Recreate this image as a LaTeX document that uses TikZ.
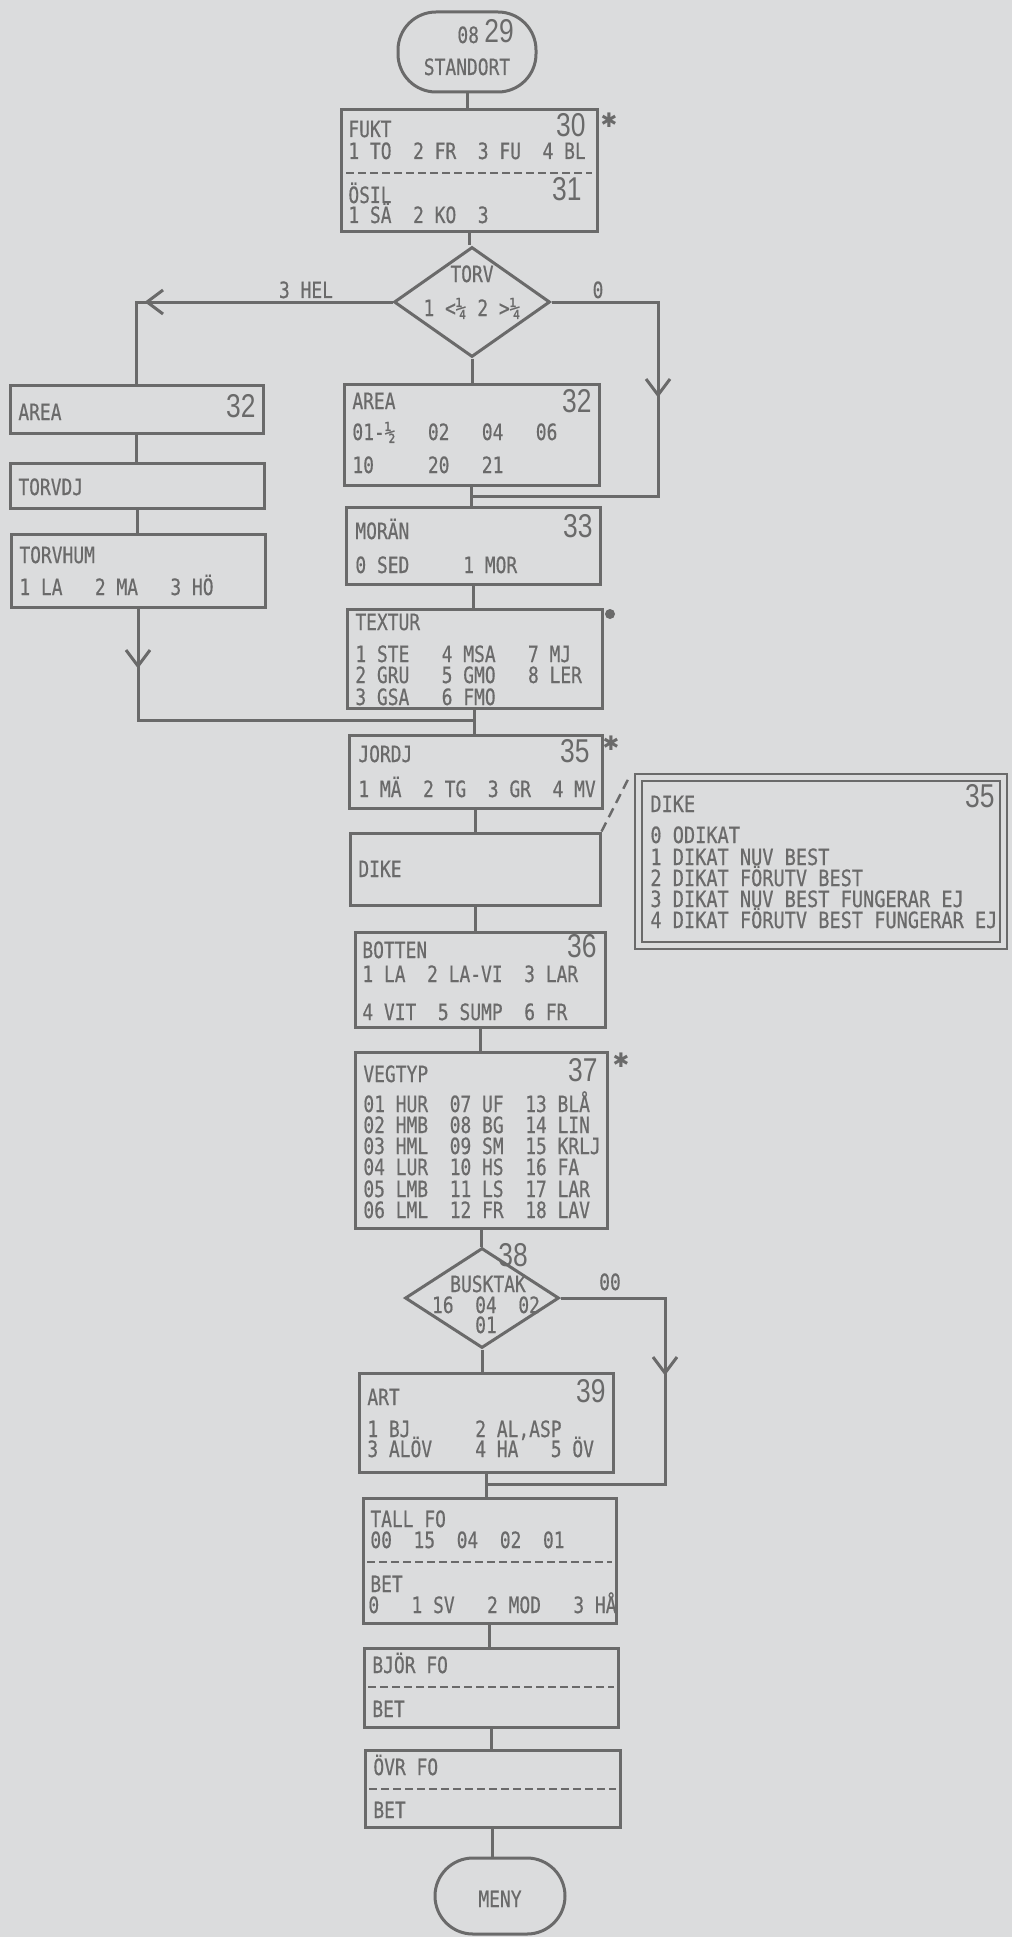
\documentclass[tikz,border=0pt]{standalone}
\usepackage{fontspec}
\newfontfamily\monof[FakeStretch=0.80,FakeBold=0.5]{DejaVu Sans Mono}
\newfontfamily\monofw[FakeStretch=0.83,FakeBold=0.5]{DejaVu Sans Mono}
\newfontfamily\numff[FakeStretch=0.80]{Liberation Sans}
\newfontfamily\symf{DejaVu Sans}
\usetikzlibrary{shapes.geometric,fit,calc,decorations.markings,arrows.meta}
\definecolor{bgc}{HTML}{DBDCDD}
\definecolor{inkc}{HTML}{6A6A6A}
\newcommand\mtxt{\monof\fontsize{11.2}{13}\selectfont}
\newcommand\mtxtw{\monofw\fontsize{11.2}{13}\selectfont}
\newcommand\bnumf{\numff\fontsize{16.5}{20}\selectfont}
\newcommand\astf{\symf\fontsize{10}{10}\selectfont}
\begin{document}
\begin{tikzpicture}[x=0.5pt,y=-0.5pt,
  box/.style={draw=inkc, line width=1.5pt, inner sep=0pt, rectangle},
  term/.style={box, rounded corners=19pt},
  dia/.style={draw=inkc, line width=1.5pt, diamond, inner sep=0pt},
  conn/.style={draw=inkc, line width=1.5pt},
  sepln/.style={draw=inkc, line width=1.1pt, dash pattern=on 4pt off 2pt},
  dashln/.style={draw=inkc, line width=1.2pt, dash pattern=on 5pt off 3pt},
  txt/.style={text=inkc, font=\mtxt, inner sep=0pt, anchor=base west},
  wtxt/.style={txt, font=\mtxtw},
  ctxt/.style={txt, anchor=base},
  bnum/.style={text=inkc, font=\bnumf, inner sep=0pt, anchor=base east},
  bnumc/.style={bnum, anchor=base},
  ast/.style={text=inkc, font=\astf, inner sep=0pt, anchor=center},
  marr/.style={decoration={markings, mark=at position #1 with {\arrow{Straight Barb[length=8pt,width=12pt]}}}, postaction={decorate}}
]
\fill[bgc] (0,0) rectangle (1012,1937);
\useasboundingbox (0,0) rectangle (1012,1937);

% ---------- start terminal
\node[term, fit={(398,12) (536,92)}] (start) {};
\node[txt] (t08) at (457,43) {08};
\node[bnum, anchor=base west] (t29) at (484,43) {29};
\node[ctxt] (tstand) at (467,75) {STANDORT};

% ---------- FUKT / OSIL
\node[box, fit={(341,110) (597,232)}] (fukt) {};
\node[txt] (tfukt) at (348,137) {FUKT};
\node[txt] (tfukt1) at (348,159) {1~TO~~2~FR~~3~FU~~4~BL};
\node[bnum] (n30) at (586,137) {30};
\draw[sepln] (346,173) -- (592,173);
\node[txt] (tosil) at (348,203) {ÖSIL};
\node[bnum] (n31) at (582,201) {31};
\node[txt] (tosil1) at (348,223) {1~SÄ~~2~KO~~3};
\node[ast] (a1) at (609,120) {✱};

% ---------- TORV diamond
\node[dia, minimum width=78pt, minimum height=55pt] (torv) at (472,302) {};
\node[ctxt] (ttorv) at (472,282) {TORV};
\node[ctxt] (ttorv1) at (472,316) {1~<¼~2~>¼};
\node[ctxt] (thel) at (306,298) {3 HEL};
\node[ctxt] (tzero) at (598,298) {0};

% ---------- left column
\node[box, fit={(10,385) (263,433)}] (larea) {};
\node[txt] (tlarea) at (18,420) {AREA};
\node[bnum] (n32a) at (256,417) {32};
\node[box, fit={(10,463) (264,508)}] (torvdj) {};
\node[txt] (ttorvdj) at (18,495) {TORVDJ};
\node[box, fit={(11,534) (265,607)}] (torvhum) {};
\node[txt] (ttorvhum) at (19,563) {TORVHUM};
\node[txt] (ttorvhum1) at (19,595) {1~LA~~~2~MA~~~3~HÖ};

% ---------- right AREA
\node[box, fit={(344,384) (599,485)}] (rarea) {};
\node[txt] (trarea) at (352,409) {AREA};
\node[bnum] (n32b) at (592,412) {32};
\node[txt] (trarea1) at (352,440) {01-½~~~02~~~04~~~06};
\node[txt] (trarea2) at (352,473) {10~~~~~20~~~21};

% ---------- MORAN
\node[box, fit={(346,507) (600,584)}] (moran) {};
\node[txt] (tmoran) at (355,539) {MORÄN};
\node[bnum] (n33) at (593,537) {33};
\node[txt] (tmoran1) at (355,573) {0~SED~~~~~1~MOR};

% ---------- TEXTUR
\node[box, fit={(347,609) (602,708)}] (textur) {};
\node[txt] (ttextur) at (355,630) {TEXTUR};
\node[txt] (ttextur1) at (355,662) {1~STE~~~4~MSA~~~7~MJ};
\node[txt] (ttextur2) at (355,683) {2~GRU~~~5~GMO~~~8~LER};
\node[txt] (ttextur3) at (355,705) {3~GSA~~~6~FMO};
\node[circle, fill=inkc, minimum size=5pt, inner sep=0pt] (blob) at (610,614) {};

% ---------- JORDJ
\node[box, fit={(349,735) (602,808)}] (jordj) {};
\node[txt] (tjordj) at (358,762) {JORDJ};
\node[bnum] (n35) at (590,762) {35};
\node[txt] (tjordj1) at (358,797) {1~MÄ~~2~TG~~3~GR~~4~MV};
\node[ast] (a2) at (611,743) {✱};

% ---------- DIKE
\node[box, fit={(350,833) (600,905)}] (dike) {};
\node[txt] (tdike) at (358,877) {DIKE};

% ---------- DIKE detail
\node[draw=inkc, double=bgc, double distance=2.5pt, line width=1pt, inner sep=0pt, fit={(638.5,777.5) (1003.5,945.5)}] (det) {};
\node[wtxt] (tdet) at (650,812) {DIKE};
\node[bnum] (n35b) at (995,807) {35};
\node[wtxt] (tdet0) at (650,843) {0 ODIKAT};
\node[wtxt] (tdet1) at (650,865) {1 DIKAT NUV BEST};
\node[wtxt] (tdet2) at (650,886) {2 DIKAT FÖRUTV BEST};
\node[wtxt] (tdet3) at (650,907) {3 DIKAT NUV BEST FUNGERAR EJ};
\node[wtxt] (tdet4) at (650,928) {4 DIKAT FÖRUTV BEST FUNGERAR EJ};

% ---------- BOTTEN
\node[box, fit={(355,932) (605,1027)}] (botten) {};
\node[txt] (tbotten) at (362,958) {BOTTEN};
\node[bnum] (n36) at (597,957) {36};
\node[txt] (tbotten1) at (362,982) {1~LA~~2~LA-VI~~3~LAR};
\node[txt] (tbotten2) at (362,1020) {4~VIT~~5~SUMP~~6~FR};

% ---------- VEGTYP
\node[box, fit={(355,1052) (607,1228)}] (vegtyp) {};
\node[txt] (tveg) at (363,1082) {VEGTYP};
\node[bnum] (n37) at (598,1081) {37};
\node[txt] (tveg1) at (363,1112) {01~HUR~~07~UF~~13~BLÅ};
\node[txt] (tveg2) at (363,1133) {02~HMB~~08~BG~~14~LIN};
\node[txt] (tveg3) at (363,1154) {03~HML~~09~SM~~15~KRLJ};
\node[txt] (tveg4) at (363,1175) {04~LUR~~10~HS~~16~FA};
\node[txt] (tveg5) at (363,1197) {05~LMB~~11~LS~~17~LAR};
\node[txt] (tveg6) at (363,1218) {06~LML~~12~FR~~18~LAV};
\node[ast] (a3) at (621,1060) {✱};

% ---------- BUSKTAK diamond
\node[dia, minimum width=77pt, minimum height=50pt] (busk) at (482,1298) {};
\node[bnumc] (n38) at (513,1266) {38};
\node[ctxt] (tbusk) at (488,1292) {BUSKTAK};
\node[ctxt] (tbusk1) at (486,1313) {16~~04~~02};
\node[ctxt] (tbusk2) at (486,1333) {01};
\node[ctxt] (t00) at (610,1290) {00};

% ---------- ART
\node[box, fit={(359,1373) (613,1472)}] (art) {};
\node[txt] (tart) at (367,1405) {ART};
\node[bnum] (n39) at (606,1402) {39};
\node[txt] (tart1) at (367,1437) {1~BJ~~~~~~2~AL,ASP};
\node[txt] (tart2) at (367,1457) {3~ALÖV~~~~4~HA~~~5~ÖV};

% ---------- TALL FO
\node[box, fit={(363,1498) (616,1623)}] (tall) {};
\node[txt] (ttall) at (370,1527) {TALL FO};
\node[txt] (ttall1) at (370,1548) {00~~15~~04~~02~~01};
\draw[sepln] (367,1562) -- (612,1562);
\node[txt] (ttall2) at (370,1592) {BET};
\node[txt] (ttall3) at (368,1613) {0~~~1~SV~~~2~MOD~~~3~HÅ};

% ---------- BJOR FO
\node[box, fit={(364,1648) (618,1727)}] (bjor) {};
\node[txt] (tbjor) at (372,1673) {BJÖR FO};
\draw[sepln] (368,1687) -- (614,1687);
\node[txt] (tbjor1) at (372,1717) {BET};

% ---------- OVR FO
\node[box, fit={(365,1750) (620,1827)}] (ovr) {};
\node[txt] (tovr) at (373,1775) {ÖVR FO};
\draw[sepln] (369,1789) -- (616,1789);
\node[txt] (tovr1) at (373,1818) {BET};

% ---------- MENY
\node[term, fit={(435,1858) (565,1934)}] (meny) {};
\node[ctxt] (tmeny) at (500,1907) {MENY};

% ---------- connectors
\draw[conn] (start.south) -- (start.south |- fukt.north);
\draw[conn] (fukt.south) -- (fukt.south |- torv.north);
\draw[conn] (torv.south) -- (torv.south |- rarea.north);
\draw[conn, marr=124pt] (torv.west) -- (torv.west -| larea.north) -- (larea.north);
\draw[conn] (larea.south) -- (larea.south |- torvdj.north);
\draw[conn] (torvdj.south) -- (torvdj.south |- torvhum.north);
\coordinate (j2) at (474.5,720);
\draw[conn, marr=30pt] (torvhum.south) -- (torvhum.south |- j2) -- (j2);
\coordinate (j1) at (471.5,496);
\coordinate (c1) at (658,302);
\draw[conn, marr=101pt] (torv.east) -- (c1) -- (c1 |- j1) -- (j1);
\draw[conn] (rarea.south) -- (rarea.south |- moran.north);
\draw[conn] (moran.south) -- (moran.south |- textur.north);
\draw[conn] (textur.south) -- (textur.south |- jordj.north);
\draw[conn] (jordj.south) -- (jordj.south |- dike.north);
\draw[conn] (dike.south) -- (dike.south |- botten.north);
\draw[conn] (botten.south) -- (botten.south |- vegtyp.north);
\draw[conn] (vegtyp.south) -- (vegtyp.south |- busk.north);
\draw[conn] (busk.south) -- (busk.south |- art.north);
\coordinate (j3) at (486,1484);
\coordinate (c2) at (665,1298);
\draw[conn, marr=91pt] (busk.east) -- (c2) -- (c2 |- j3) -- (j3);
\draw[conn] (art.south) -- (art.south |- tall.north);
\draw[conn] (tall.south) -- (tall.south |- bjor.north);
\draw[conn] (bjor.south) -- (bjor.south |- ovr.north);
\draw[conn] (ovr.south) -- (ovr.south |- meny.north);
\draw[dashln] (dike.north east) -- ($(det.north west)+(-8,0)$);
\end{tikzpicture}
\end{document}
